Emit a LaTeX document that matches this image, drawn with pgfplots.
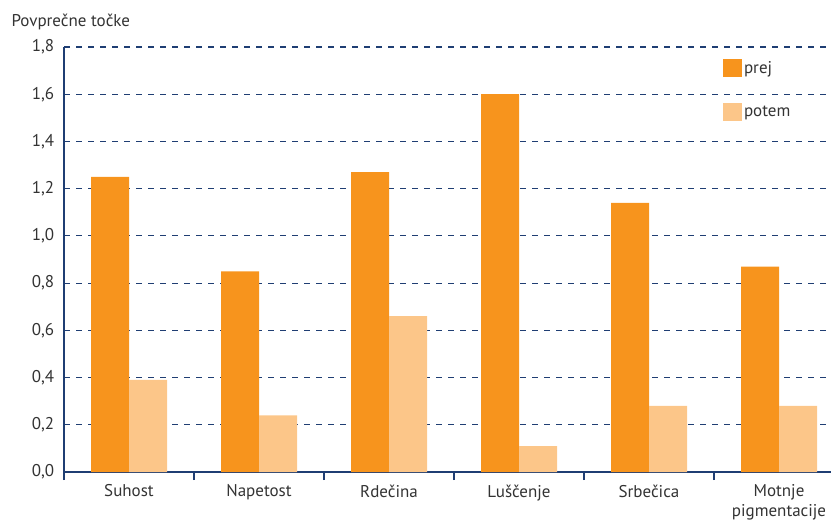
\documentclass[border=0pt]{standalone}
\usepackage{pgfplots}
\pgfplotsset{compat=1.18}
\usepackage{fontspec}
\setmainfont{PT Sans}
\definecolor{prej}{HTML}{F7941D}
\definecolor{potem}{HTML}{FCC689}
\definecolor{navy}{HTML}{1F3E73}
\begin{document}
\begin{tikzpicture}
\begin{axis}[
  name=ax,
  scale only axis,
  width=767bp, height=425bp,
  xmin=-0.5, xmax=5.4,
  ymin=0, ymax=1.8,
  clip=false,
  ybar=0pt, bar width=38bp,
  axis x line*=bottom, axis y line*=left,
  axis line style={navy, line width=1.6bp, -},
  xtick={0,...,5},
  xticklabels={Suhost,Napetost,Rde\v{c}ina,Lu\v{s}\v{c}enje,Srbe\v{c}ica,{Motnje\\pigmentacije}},
  xticklabel style={align=center, font=\fontsize{17bp}{20bp}\selectfont, text=black!80, yshift=-5bp},
  major x tick style={draw=none},
  minor xtick={-0.5,0.5,...,4.5},
  minor x tick style={navy, line width=1.2bp},
  minor tick length=8bp,
  xtick pos=bottom,
  tick align=outside,
  ytick={0,0.2,...,1.8},
  major y tick style={draw=none},
  yticklabel style={font=\fontsize{17bp}{18bp}\selectfont, text=black!80, xshift=-2bp},
  /pgf/number format/assume math mode=true,
  y tick label style={/pgf/number format/.cd, fixed, fixed zerofill, precision=1, use comma},
  ymajorgrids,
  major grid style={navy, line width=1.2bp, dash pattern=on 6bp off 6bp},
  legend style={draw=none, fill=none, at={(rel axis cs:0.859,0.972)}, anchor=north west,
    inner sep=0pt, row sep=26bp, font=\fontsize{17bp}{18bp}\selectfont, text=black!80,
    /tikz/every even column/.append style={column sep=11bp}},
  legend cell align=left,
  legend image code/.code={\fill[#1] (0bp,-9bp) rectangle (19bp,9bp);},
]
\addplot[fill=prej, draw=none] coordinates {(0,1.25) (1,0.85) (2,1.27) (3,1.60) (4,1.14) (5,0.87)};
\addplot[fill=potem, draw=none] coordinates {(0,0.39) (1,0.24) (2,0.66) (3,0.11) (4,0.28) (5,0.28)};
\legend{prej,potem}
\node[anchor=base west, xshift=-56bp, yshift=20bp, font=\fontsize{17bp}{18bp}\selectfont, text=black!80] at (rel axis cs:0,1) {Povpre\v{c}ne to\v{c}ke};
\end{axis}
\pgfresetboundingbox
\path ([xshift=-64bp,yshift=-57bp]ax.south west) rectangle ([yshift=47bp]ax.north east);
\end{tikzpicture}
\end{document}
